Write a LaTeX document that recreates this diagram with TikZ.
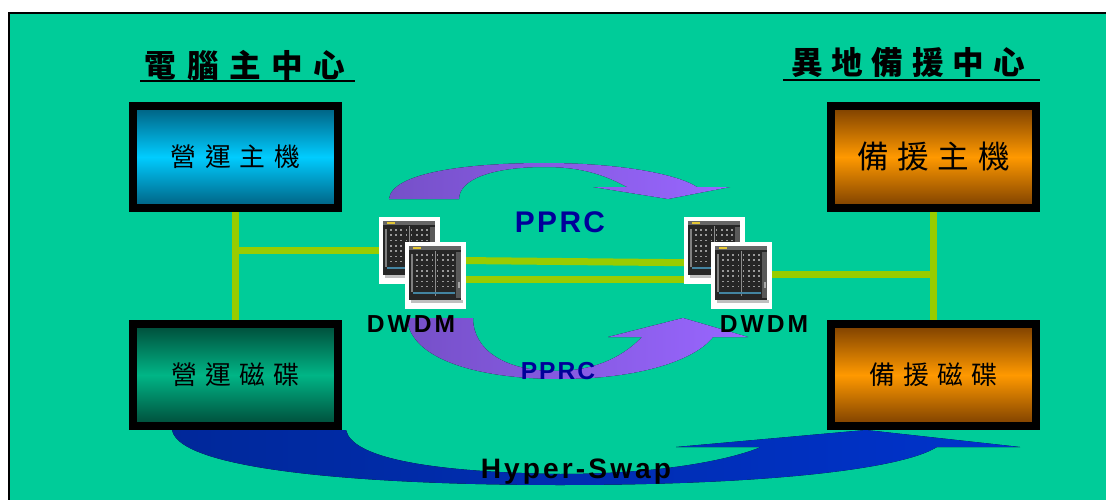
\documentclass[tikz,border=0pt]{standalone}
\usepackage{fontspec}
\setmainfont{Liberation Sans}
\newfontfamily\cjk{Noto Sans CJK TC}
\usetikzlibrary{calc}
\pgfdeclarelayer{canvas}
\pgfdeclarelayer{background}
\pgfsetlayers{canvas,background,main}

\definecolor{bggreen}{HTML}{00CC99}
\definecolor{linkgreen}{HTML}{99CC00}
\definecolor{purpleA}{HTML}{7650C8}
\definecolor{purpleB}{HTML}{9966FF}
\definecolor{swapA}{HTML}{00289A}
\definecolor{swapB}{HTML}{0033CC}
\definecolor{pprcblue}{HTML}{000099}
\definecolor{cyanDark}{HTML}{005E7E}
\definecolor{cyanLight}{HTML}{00CCFF}
\definecolor{orangeDark}{HTML}{7A3E00}
\definecolor{orangeLight}{HTML}{FF9900}
\definecolor{tealDark}{HTML}{004A38}
\definecolor{tealLight}{HTML}{00B586}

\tikzset{
  box/.style={draw=black, line width=0.16cm, minimum width=4.1cm,
    minimum height=2.04cm, inner sep=0pt, font=\cjk},
  hostbox/.style={box, top color=cyanDark, bottom color=cyanDark, middle color=cyanLight},
  diskbox/.style={box, top color=tealDark, bottom color=tealDark, middle color=tealLight},
  backupbox/.style={box, top color=orangeDark, bottom color=orangeDark, middle color=orangeLight},
  sitetitle/.style={font=\cjk\bfseries\fontsize{18pt}{20pt}\selectfont, inner sep=0pt},
  link/.style={draw=linkgreen, line width=0.14cm},
  rackframe/.style={fill=white, minimum width=1.22cm, minimum height=1.34cm,
    inner sep=0pt, anchor=north west},
  devlabel/.style={font=\bfseries\fontsize{14pt}{16pt}\selectfont\addfontfeature{LetterSpace=12},
    anchor=base, inner sep=0pt},
  pprclabel/.style={text=pprcblue, anchor=base, inner sep=0pt},
}

% one DWDM shelf: frame node plus the drawn equipment inside it
\newcommand{\dwdmshelf}[3]{%
  \node[rackframe] (#1) at (#2,#3) {};
  \begin{scope}[shift={(#2,#3)}]
    \fill[black!85] (4,4) rectangle (56,58);
    \fill[black!60] (4,4) rectangle (56,8);
    \fill[yellow!55!brown] (8,5) rectangle (16,7);
    \fill[black!50] (6,12) rectangle (8,50);
    \fill[black!65] (51,10) rectangle (56,56);
    \fill[black!35] (52.5,40) rectangle (55,46);
    \draw[black!45, line width=0.3pt] (30,9) -- (30,54);
    \foreach \i in {0,...,7}
      \foreach \j in {0,...,6}
        \fill[black!40] (11+\i*5.2,12+\j*5.3) rectangle ++(1.6,1.6);
    \fill[cyan!60!black] (8,50) rectangle (50,51.5);
    \fill[black!25] (6,58) rectangle (58,61);
  \end{scope}%
}

\begin{document}
\begin{tikzpicture}[x=0.02cm, y=-0.02cm]
  \useasboundingbox (0,0) rectangle (1106,500);
  \begin{pgfonlayer}{canvas}
    \fill[white] (0,0) rectangle (1106,500);
    \fill[bggreen] (9,13) rectangle (1106,500);
    \draw[black, line width=0.04cm] (9,500) -- (9,13) -- (1106,13);
  \end{pgfonlayer}

  % site titles
  \node[sitetitle] (titleL) at (245,65) {電\kern6pt腦\kern6pt主\kern6pt中\kern6pt心};
  \node[sitetitle] (titleR) at (908,63) {異\kern5pt地\kern5pt備\kern5pt援\kern5pt中\kern5pt心};
  \draw[line width=0.04cm] (140,81) -- (355,81);
  \draw[line width=0.04cm] (783,80) -- (1040,80);

  % hosts and disks
  \node[hostbox] (hostA) at (235.5,157)
    {\fontsize{14.7pt}{16pt}\selectfont\raisebox{-4pt}{營\kern5pt運\kern5pt主\kern5pt機}};
  \node[backupbox] (hostB) at (933.5,157)
    {\fontsize{18pt}{20pt}\selectfont\raisebox{-1pt}{備\kern5pt援\kern5pt主\kern5pt機}};
  \node[diskbox] (diskA) at (235.5,375)
    {\fontsize{14.7pt}{16pt}\selectfont\raisebox{-4pt}{營\kern4.5pt運\kern4.5pt磁\kern4.5pt碟}};
  \node[backupbox] (diskB) at (933.5,375)
    {\fontsize{14.7pt}{16pt}\selectfont\raisebox{-4pt}{備\kern4.5pt援\kern4.5pt磁\kern4.5pt碟}};

  % DWDM shelves
  \dwdmshelf{dwdmLb}{379}{217}
  \dwdmshelf{dwdmLf}{405}{242}
  \dwdmshelf{dwdmRb}{684}{217}
  \dwdmshelf{dwdmRf}{711}{242}

  % labels
  \node[devlabel] (labL) at (411,332) {DWDM};
  \node[devlabel] (labR) at (764,332) {DWDM};
  \node[pprclabel, font=\bfseries\fontsize{17pt}{19pt}\selectfont\addfontfeature{LetterSpace=8}]
    (pprcTop) at (560,233) {PPRC};
  \node[pprclabel, font=\bfseries\fontsize{14pt}{16pt}\selectfont\addfontfeature{LetterSpace=8}]
    (pprcBot) at (558,379) {PPRC};
  \node[anchor=base, inner sep=0pt,
    font=\bfseries\fontsize{16pt}{18pt}\selectfont\addfontfeature{LetterSpace=11}]
    (swapLab) at (576,478) {Hyper-Swap};

  % helper points for the link runs
  \coordinate (jL) at (236,250);
  \coordinate (jR) at (933.5,274);
  \coordinate (fa) at (440,260);
  \coordinate (fb) at (714,263);
  \coordinate (fc) at (560,279);

  \begin{pgfonlayer}{background}
    % fibre and channel links
    \draw[link] (hostA.south) -- (diskA.north);
    \draw[link] (jL) -- (dwdmLb.center |- jL);
    \draw[link] (dwdmLb.center |- fa) -- (dwdmRb.center |- fb);
    \draw[link] (dwdmLf.center |- fc) -- (dwdmRb.center |- fc);
    \draw[link] (dwdmRf.center |- jR) -- (jR);
    \draw[link] (hostB.south) -- (diskB.north);

    % PPRC arrow over the top
    \fill[left color=purpleA, right color=purpleB]
      (389,199) .. controls (392,172) and (470,163) .. (545,163)
      .. controls (615,163) and (675,173) .. (697,187)
      -- (730,187) -- (668,199) -- (593,187) -- (627,187)
      .. controls (603,174) and (580,167) .. (545,167)
      .. controls (490,167) and (459,180) .. (459,199) -- cycle;

    % PPRC arrow underneath
    \fill[left color=purpleA, right color=purpleB]
      (407,318) .. controls (410,360) and (480,379) .. (560,379)
      .. controls (640,379) and (695,360) .. (713,337)
      -- (748,337) -- (683,318) -- (608,337) -- (642,337)
      .. controls (620,360) and (590,371) .. (555,371)
      .. controls (505,371) and (473,350) .. (473,318) -- cycle;

    % Hyper-Swap arrow from disk to disk
    \fill[left color=swapA, right color=swapB]
      (172,430) .. controls (180,472) and (380,485) .. (560,485)
      .. controls (760,485) and (900,470) .. (937,447)
      -- (1020,447) -- (866,430) -- (676,447) -- (761,447)
      .. controls (730,460) and (660,474) .. (560,474)
      .. controls (430,472) and (352,458) .. (346,430) -- cycle;
  \end{pgfonlayer}
\end{tikzpicture}
\end{document}
